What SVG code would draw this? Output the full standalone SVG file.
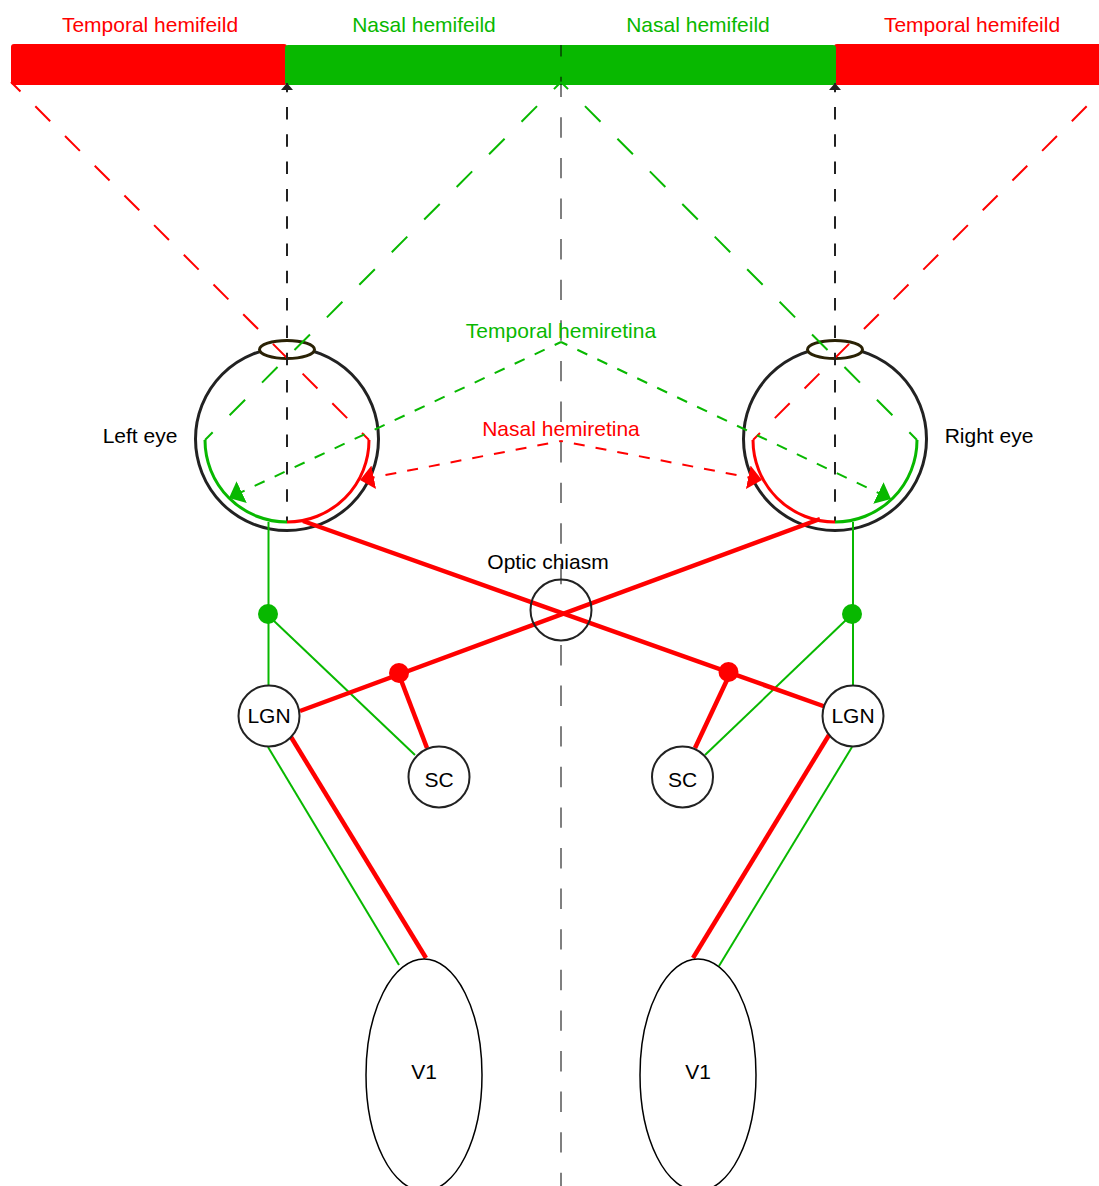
<svg xmlns="http://www.w3.org/2000/svg" width="1099" height="1186" viewBox="0 0 1099 1186">
<style>
text{font-family:"Liberation Sans",Arial,sans-serif;font-size:21px;text-anchor:middle;fill:#000}
.r{fill:#f00}.g{fill:#08b800}
.node{fill:#fff;stroke:#222;stroke-width:2}
.v1{fill:#fff;stroke:#000;stroke-width:1.5}
.eye{fill:#fff;stroke:#222;stroke-width:3}
.lens{fill:#fff;stroke:#2a2205;stroke-width:3}
.thinG{fill:none;stroke:#08b800;stroke-width:2}
.thickR{fill:none;stroke:#f00;stroke-width:4.500}
.arcG{fill:none;stroke:#08b800;stroke-width:3}
.arcR{fill:none;stroke:#f00;stroke-width:3}
.longG{fill:none;stroke:#08b800;stroke-width:2;stroke-dasharray:22 24;stroke-dashoffset:12}
.longR{fill:none;stroke:#f00;stroke-width:2;stroke-dasharray:21 21;stroke-dashoffset:7.600}
.shortG{fill:none;stroke:#08b800;stroke-width:2;stroke-dasharray:11 11.100;stroke-dashoffset:4}
.shortR{fill:none;stroke:#f00;stroke-width:2;stroke-dasharray:11 11.100;stroke-dashoffset:9}
.axis{fill:none;stroke:#222;stroke-width:2;stroke-dasharray:12.500 14.800;stroke-dashoffset:7}
.mid{fill:none;stroke:#000;stroke-opacity:.5;stroke-width:2;stroke-dasharray:20.400 20.200}
</style>
<defs>
<marker id="ag" markerUnits="userSpaceOnUse" markerWidth="16" markerHeight="28" refX="14" refY="13" orient="auto"><path d="M0,1 L14,13 L0,25 Z" fill="#08b800"/></marker>
<marker id="ar" markerUnits="userSpaceOnUse" markerWidth="16" markerHeight="28" refX="14" refY="13" orient="auto"><path d="M0,1 L14,13 L0,25 Z" fill="#f00"/></marker>
<marker id="ak" markerUnits="userSpaceOnUse" markerWidth="8" markerHeight="14" refX="7" refY="6" orient="auto"><path d="M0,0 L7,6 L0,12 Z" fill="#222"/></marker>
</defs>
<g id="bar-left"><rect x="11" y="44" width="276" height="41" rx="3" class="r"/></g>
<g id="bar-right"><rect x="834" y="44" width="280" height="41" rx="3" class="r"/></g>
<g id="bar-middle"><rect x="285" y="45" width="551" height="40" rx="3" class="g"/></g>
<g id="left-eye"><circle cx="287" cy="439" r="91.5" class="eye"/><ellipse cx="287" cy="349.500" rx="27.500" ry="9" class="lens"/></g>
<g id="right-eye"><circle cx="835" cy="439" r="91.500" class="eye"/><ellipse cx="835" cy="349.500" rx="27.500" ry="9" class="lens"/></g>
<g id="connectors">
<path class="mid" style="stroke-dashoffset:8.900" d="M561,45V600"/>
<path class="mid" d="M561,645V1186"/>
<path class="longR" d="M11,82L369,440"/>
<path class="longG" d="M561,82L205,440"/>
<path class="longG" d="M561,82L917,440"/>
<path class="longR" d="M1111,82L753,440"/>
<path class="axis" d="M287,522V83" marker-end="url(#ak)"/>
<path class="axis" d="M835,522V83" marker-end="url(#ak)"/>
<path class="arcG" d="M205,440A82,82 0 0 0 287,522"/>
<path class="arcR" d="M369,440A82,82 0 0 1 287,522"/>
<path class="arcR" d="M753,440A82,82 0 0 0 835,522"/>
<path class="arcG" d="M917,440A82,82 0 0 1 835,522"/>
<path class="shortG" d="M561,342L229,498" marker-end="url(#ag)"/>
<path class="shortG" d="M561,342L891,499" marker-end="url(#ag)"/>
<path class="shortR" d="M561,441L360,480" marker-end="url(#ar)"/>
<path class="shortR" d="M561,441L762,480" marker-end="url(#ar)"/>
<path class="thinG" d="M268.500,522V686"/>
<path class="thinG" d="M853,522V686"/>
<path class="thinG" d="M273,620L415,755"/>
<path class="thinG" d="M846,620L705,755"/>
<path class="thinG" d="M268,747L399,965"/>
<path class="thinG" d="M852,747L719,966"/>
<path class="thickR" d="M303,521L826,707"/>
<path class="thickR" d="M820,519L300,711"/>
<path class="thickR" d="M401,680L427,748"/>
<path class="thickR" d="M727,680L695,748"/>
<path class="thickR" d="M291,737L426,958"/>
<path class="thickR" d="M829,735L693,958"/>
</g>
<g id="dot-green-left"><circle cx="268" cy="614" r="10" class="g"/></g>
<g id="dot-green-right"><circle cx="852" cy="614" r="10" class="g"/></g>
<g id="dot-red-left"><circle cx="399" cy="673" r="10" class="r"/></g>
<g id="dot-red-right"><circle cx="728.500" cy="672" r="10" class="r"/></g>
<g id="chiasm"><circle cx="561" cy="610" r="30.500" fill="none" stroke="#222" stroke-width="2"/><text x="548" y="569">Optic chiasm</text></g>
<g id="lgn-left"><circle cx="269" cy="716" r="30.500" class="node"/><text x="269" y="723">LGN</text></g>
<g id="lgn-right"><circle cx="853" cy="716" r="30.500" class="node"/><text x="853" y="723">LGN</text></g>
<g id="sc-left"><circle cx="439" cy="777" r="30.500" class="node"/><text x="439" y="787">SC</text></g>
<g id="sc-right"><circle cx="682.500" cy="777" r="30.500" class="node"/><text x="682.500" y="787">SC</text></g>
<g id="v1-left"><ellipse cx="424" cy="1075" rx="58" ry="116" class="v1"/><text x="424" y="1079">V1</text></g>
<g id="v1-right"><ellipse cx="698" cy="1075" rx="58" ry="116" class="v1"/><text x="698" y="1079">V1</text></g>
<g id="labels">
<text x="150" y="32" class="r">Temporal hemifeild</text>
<text x="424" y="32" class="g">Nasal hemifeild</text>
<text x="698" y="32" class="g">Nasal hemifeild</text>
<text x="972" y="32" class="r">Temporal hemifeild</text>
<text x="561" y="338" class="g">Temporal hemiretina</text>
<text x="561" y="436" class="r">Nasal hemiretina</text>
<text x="140" y="443">Left eye</text>
<text x="989" y="443">Right eye</text>
</g>
</svg>
